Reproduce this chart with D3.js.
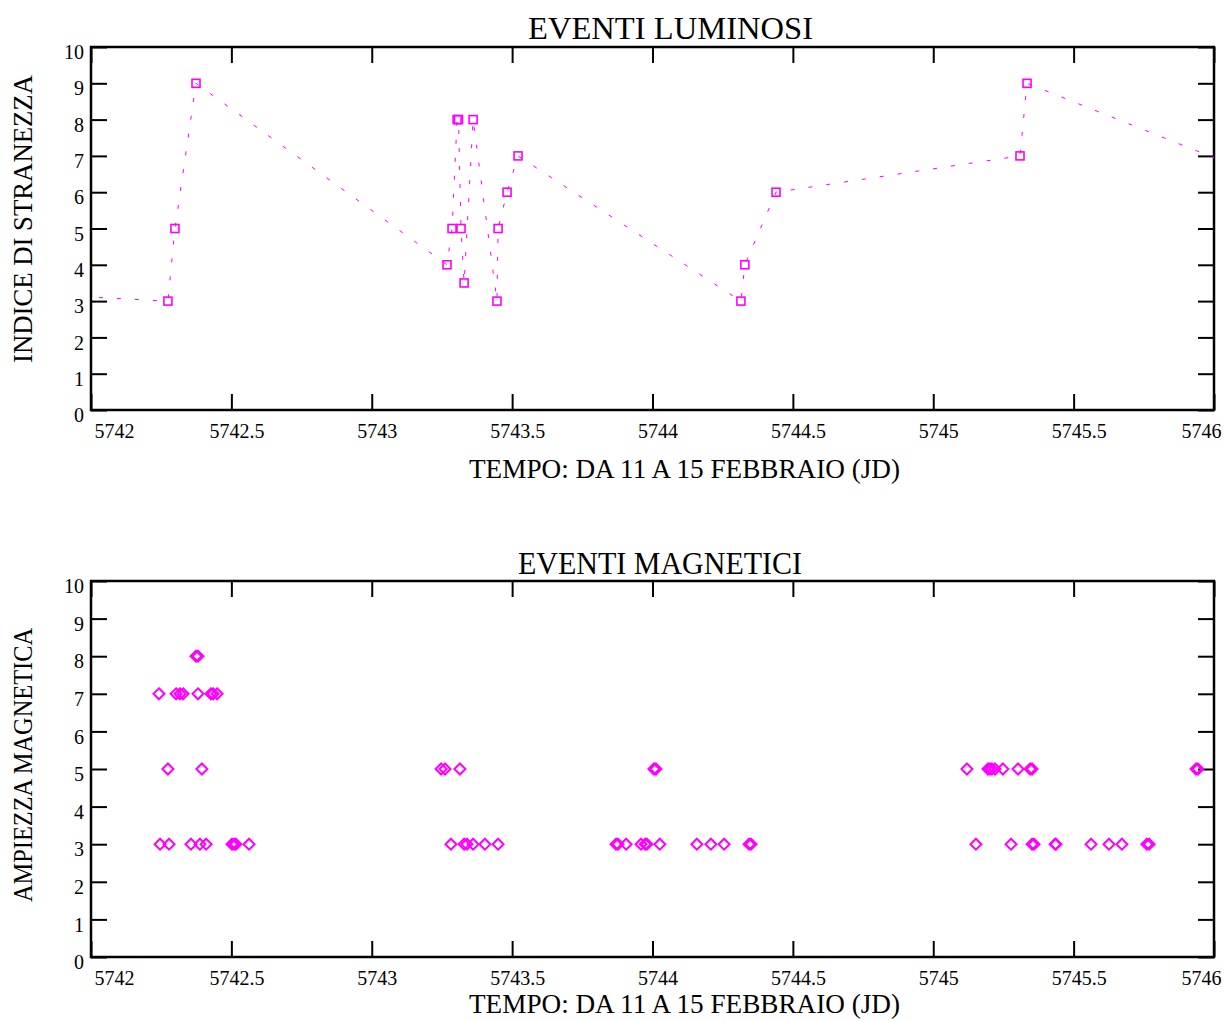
<!DOCTYPE html>
<html>
<head>
<meta charset="utf-8">
<script src="https://d3js.org/d3.v7.min.js"></script>
<style>
  body { margin: 0; background: #fff; }
  text { font-family: "Liberation Serif", "Times New Roman", serif; fill: #000; }
</style>
</head>
<body>
<svg id="chart" width="1224" height="1021"></svg>
<script>
// x axis ticks (JD - 2450000 style)
var xTicks = [5742, 5742.5, 5743, 5743.5, 5744, 5744.5, 5745, 5745.5, 5746];
var yTicks = [0, 1, 2, 3, 4, 5, 6, 7, 8, 9, 10];

// luminous events (time, strangeness index) - joined by a dotted line
var lumTime = [5741.90, 5742.274, 5742.299, 5742.374, 5743.268, 5743.286, 5743.304, 5743.309,
               5743.318, 5743.329, 5743.361, 5743.446, 5743.450, 5743.482, 5743.521,
               5744.315, 5744.329, 5744.440, 5745.309, 5745.334, 5746.0];
var lumValue = [3.15, 3, 5, 9, 4, 5, 8, 8, 5, 3.5, 8, 3, 5, 6, 7, 3, 4, 6, 7, 9, 6.95];

// magnetic events (time, amplitude)
var magTime = [
  5742.374, 5742.381,
  5742.242, 5742.303, 5742.317, 5742.328, 5742.381, 5742.427, 5742.435, 5742.449,
  5742.274, 5742.395, 5743.247, 5743.261, 5743.314, 5744.005, 5744.012, 5745.120,
  5745.195, 5745.202, 5745.209, 5745.220, 5745.248, 5745.302, 5745.345, 5745.352,
  5745.936, 5745.943,
  5742.246, 5742.278, 5742.356, 5742.388, 5742.410, 5742.502, 5742.509, 5742.516,
  5742.563, 5743.282, 5743.329, 5743.339, 5743.361, 5743.403, 5743.450, 5743.870,
  5743.877, 5743.906, 5743.959, 5743.974, 5743.980, 5744.026, 5744.158, 5744.208,
  5744.255, 5744.344, 5744.351, 5745.152, 5745.277, 5745.352, 5745.359, 5745.434,
  5745.437, 5745.562, 5745.626, 5745.672, 5745.761, 5745.769
];
var magValue = [
  8, 8,
  7, 7, 7, 7, 7, 7, 7, 7,
  5, 5, 5, 5, 5, 5, 5, 5,
  5, 5, 5, 5, 5, 5, 5, 5,
  5, 5,
  3, 3, 3, 3, 3, 3, 3, 3,
  3, 3, 3, 3, 3, 3, 3, 3,
  3, 3, 3, 3, 3, 3, 3, 3,
  3, 3, 3, 3, 3, 3, 3, 3,
  3, 3, 3, 3, 3, 3
];

var svg = d3.select("#chart");
var left = 91, right = 1214;
var magenta = "#ff00ff";

var x = d3.scaleLinear().domain([5742, 5746]).range([left, right]);

function drawPanel(opt) {
  var top = opt.top, bottom = opt.bottom;
  var y = d3.scaleLinear().domain([0, 10]).range([bottom, top]);
  var g = svg.append("g");

  g.append("clipPath").attr("id", opt.id)
    .append("rect").attr("x", left).attr("y", top)
    .attr("width", right - left).attr("height", bottom - top);

  // bottom axis with labels, ticks pointing inward
  var xb = g.append("g").attr("transform", "translate(0," + bottom + ")")
    .call(d3.axisBottom(x).tickValues(xTicks).tickSize(-16).tickPadding(14)
      .tickFormat(d3.format("")));
  // top ticks
  var xt = g.append("g").attr("transform", "translate(0," + top + ")")
    .call(d3.axisTop(x).tickValues(xTicks).tickSize(-16).tickFormat(""));
  var yl = g.append("g").attr("transform", "translate(" + left + ",0)")
    .call(d3.axisLeft(y).tickValues(yTicks).tickSize(-16).tickPadding(7));
  var yr = g.append("g").attr("transform", "translate(" + right + ",0)")
    .call(d3.axisRight(y).tickValues(yTicks).tickSize(-16).tickFormat(""));

  [xb, xt, yl, yr].forEach(function(a) {
    a.attr("font-family", "Liberation Serif").attr("font-size", 20);
    a.select(".domain").remove();
    a.selectAll("line").attr("stroke", "#000").attr("stroke-width", 2);
    a.selectAll("text").style("font-size", "20px")
      .style("font-family", "'Liberation Serif', serif");
  });
  xb.selectAll("text")
    .attr("dx", function(d, i) { return i === 0 ? 3 : (i === xTicks.length - 1 ? 7 : 5); })
    .attr("text-anchor", function(d, i) { return i === 0 ? "start" : (i === xTicks.length - 1 ? "end" : "middle"); });
  yl.selectAll("text").attr("dy", "0.58em");

  g.append("rect").attr("x", left).attr("y", top)
    .attr("width", right - left).attr("height", bottom - top)
    .attr("fill", "none").attr("stroke", "#000").attr("stroke-width", 2.5);

  g.append("text").attr("x", opt.titleX).attr("y", opt.titleY)
    .attr("text-anchor", "middle").style("font-size", "32px")
    .attr("textLength", opt.titleLen).attr("lengthAdjust", "spacingAndGlyphs")
    .text(opt.title);
  g.append("text").attr("x", 684.5).attr("y", opt.xLabelY)
    .attr("text-anchor", "middle").style("font-size", "27px")
    .attr("textLength", 431).attr("lengthAdjust", "spacingAndGlyphs")
    .text("TEMPO: DA 11 A 15 FEBBRAIO (JD)");
  g.append("text")
    .attr("transform", "translate(32," + opt.yLabelC + ") rotate(-90)")
    .attr("text-anchor", "middle").style("font-size", "27px")
    .attr("textLength", opt.yLabelLen).attr("lengthAdjust", "spacingAndGlyphs")
    .text(opt.yLabel);

  return { g: g, y: y };
}

// top panel: luminous events
var p1 = drawPanel({ top: 47, bottom: 410, id: "clip1",
  title: "EVENTI LUMINOSI", titleX: 670.5, titleY: 39, titleLen: 285,
  yLabel: "INDICE DI STRANEZZA", yLabelC: 219, yLabelLen: 288, xLabelY: 478 });
var lumData = lumTime.map(function(t, i) { return { t: t, v: lumValue[i] }; });

var line = d3.line()
  .x(function(d) { return x(d.t); })
  .y(function(d) { return p1.y(d.v); });

p1.g.append("path")
  .attr("clip-path", "url(#clip1)")
  .attr("d", line(lumData))
  .attr("fill", "none")
  .attr("stroke", magenta)
  .attr("stroke-width", 1)
  .attr("stroke-dasharray", "4,14");

p1.g.append("g").attr("clip-path", "url(#clip1)")
  .selectAll("rect").data(lumData.slice(1, lumData.length - 1)).enter()
  .append("rect")
  .attr("x", function(d) { return x(d.t) - 4; })
  .attr("y", function(d) { return p1.y(d.v) - 4; })
  .attr("width", 8).attr("height", 8)
  .attr("fill", "none").attr("stroke", magenta).attr("stroke-width", 1.6);

// bottom panel: magnetic events
var p2 = drawPanel({ top: 581, bottom: 957, id: "clip2",
  title: "EVENTI MAGNETICI", titleX: 660, titleY: 574, titleLen: 284,
  yLabel: "AMPIEZZA MAGNETICA", yLabelC: 765, yLabelLen: 274, xLabelY: 1013 });
var magData = magTime.map(function(t, i) { return { t: t, v: magValue[i] }; });

var diamond = "M0,-5.5L5.5,0L0,5.5L-5.5,0Z";
p2.g.append("g").attr("clip-path", "url(#clip2)")
  .selectAll("path").data(magData).enter()
  .append("path")
  .attr("d", diamond)
  .attr("transform", function(d) { return "translate(" + x(d.t) + "," + p2.y(d.v) + ")"; })
  .attr("fill", "none").attr("stroke", magenta).attr("stroke-width", 2);
</script>
</body>
</html>
